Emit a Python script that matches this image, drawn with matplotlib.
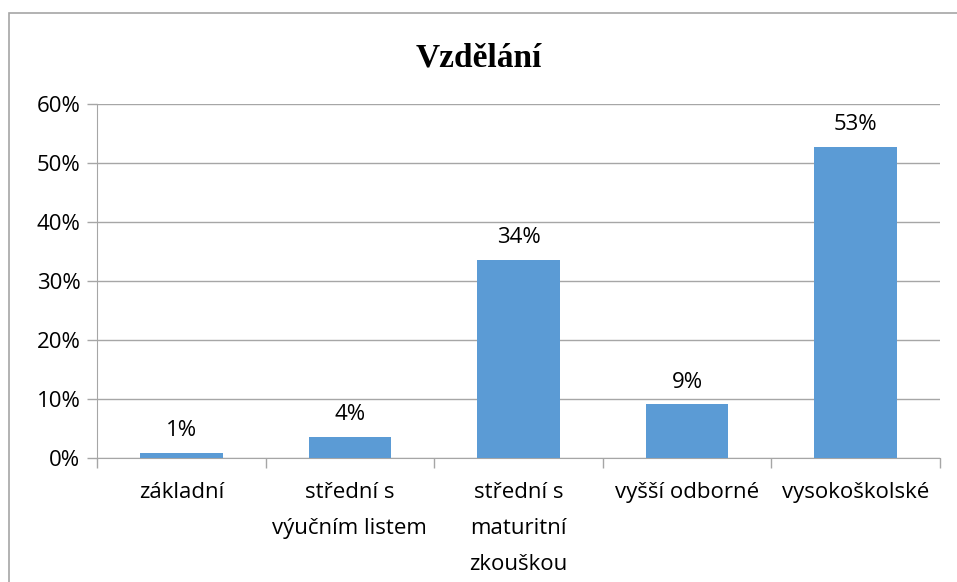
import matplotlib.pyplot as plt
from matplotlib.patches import Rectangle

# data
categories = ["základní", "střední s\nvýučním listem", "střední s\nmaturitní\nzkouškou",
              "vyšší odborné", "vysokoškolské"]
values = [0.9, 3.6, 33.6, 9.1, 52.7]
labels = ["1%", "4%", "34%", "9%", "53%"]
yticks = [0, 10, 20, 30, 40, 50, 60]

plt.rcParams['font.family'] = ['Open Sans', 'DejaVu Sans']
fs = 16

fig = plt.figure(figsize=(9.57, 5.82), dpi=100)
ax = fig.add_axes([97 / 957, 1 - 458 / 582, 843 / 957, 354 / 582])

# outer chart border (partly cut off like the screenshot)
fig.patches.append(Rectangle((9 / 957, -0.1), 1.2, 1 - 13 / 582 + 0.1,
                             transform=fig.transFigure, fill=False,
                             edgecolor='#a6a6a6', linewidth=1.2))

x = list(range(len(categories)))
ax.bar(x, values, width=0.49, color='#5b9bd5', zorder=3)
for xi, v, lab in zip(x, values, labels):
    ax.text(xi, v + 2.0, lab, ha='center', va='bottom', fontsize=fs)

ax.set_xlim(-0.5, len(categories) - 0.5)
ax.set_ylim(0, 60)
ax.set_yticks(yticks)
ax.set_yticklabels([f"{t}%" for t in yticks], fontsize=fs)
ax.yaxis.grid(True, color='#a6a6a6', linewidth=1)
ax.set_axisbelow(True)

ax.set_xticks([i - 0.5 for i in range(len(categories) + 1)])
ax.set_xticklabels([])
ax.set_xticks(x, minor=True)
ax.set_xticklabels(categories, minor=True, fontsize=fs, linespacing=1.95, va='top')
ax.tick_params(axis='x', which='minor', length=0, pad=17)
ax.tick_params(axis='x', which='major', length=7, color='#a6a6a6', width=1)
ax.tick_params(axis='y', length=7, color='#a6a6a6', width=1, pad=5)

for side in ['top', 'right']:
    ax.spines[side].set_visible(False)
ax.spines['left'].set_color('#a6a6a6')
ax.spines['bottom'].set_color('#a6a6a6')

fig.text(0.5, 1 - 58 / 582, "Vzdělání", ha='center', va='center',
         fontsize=24, fontweight='bold', family='Liberation Serif')

fig.savefig('out.png', dpi=100)
